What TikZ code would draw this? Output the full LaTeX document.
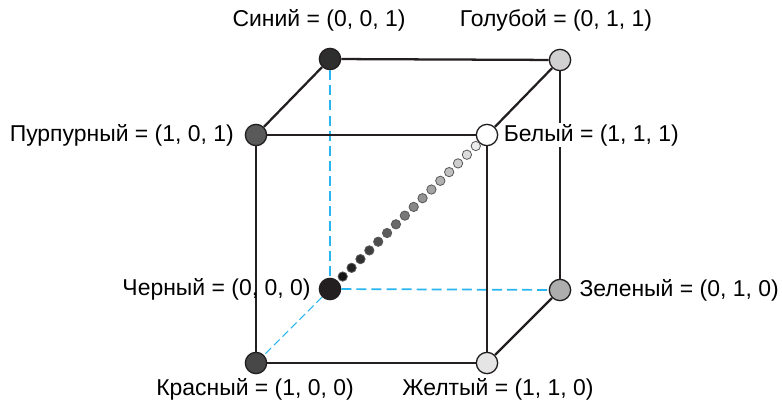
\documentclass[tikz,border=0pt]{standalone}
\usepackage{fontspec}
\setmainfont{Liberation Sans}
\usetikzlibrary{positioning,calc}
\definecolor{edgedark}{RGB}{35,31,32}
\definecolor{dashcyan}{RGB}{41,182,240}
\tikzset{
  vtx/.style={circle,draw=edgedark,line width=1pt,minimum size=16pt,inner sep=0pt},
  cubeedge/.style={edgedark,line width=1.7pt},
  hidden/.style={dashcyan,line width=1.3pt,dash pattern=on 7.5pt off 3.8pt},
  hiddenthin/.style={dashcyan,line width=0.8pt,dash pattern=on 6pt off 3pt},
  greydot/.style={circle,draw=edgedark!75,line width=0.6pt,minimum size=7pt,inner sep=0pt},
  lbl/.style={font=\fontsize{17.2}{20}\selectfont,inner sep=1pt}
}

\begin{document}
\begin{tikzpicture}[x=0.75pt,y=-0.75pt]
  \useasboundingbox (0,0) rectangle (782,403);

  % Corners of the RGB cube (front face, then back face).
  \node[vtx,fill=black!65] (magenta) at (256,135) {};
  \node[vtx,fill=white] (white) at (487,135) {};
  \node[vtx,fill=black!10] (yellow) at (487,363) {};
  \node[vtx,fill=black!72] (red) at (256,363) {};
  \node[vtx,fill=black!82] (blue) at (330,59) {};
  \node[vtx,fill=black!18] (cyan) at (560,60) {};
  \node[vtx,fill=black!32] (green) at (560,290) {};
  \node[vtx,fill=edgedark] (black) at (330,289) {};

  % Hidden edges.
  \draw[hidden] (blue)--(black);
  \draw[hidden] (black)--(green);
  \draw[hiddenthin] (black)--(red);

  % Visible edges.
  \foreach \a/\b in {blue/cyan,blue/magenta,cyan/white,magenta/white,
                     magenta/red,white/yellow,cyan/green,red/yellow,yellow/green}
    {\draw[cubeedge] (\a)--(\b);}

  % Grey scale along the main diagonal.
  \foreach \i in {0,...,15} {
    \pgfmathsetmacro{\t}{0.081+0.0565*\i}
    \pgfmathsetmacro{\g}{92-5.6*\i}
    \node[greydot,fill=black!\g] (g\i) at ($(black)!\t!(white)$) {};
  }

  % Colour names and coordinates.
  \node[lbl] (lblue) at (319,20) {Синий = (0, 0, 1)};
  \node[lbl] (lcyan) at (556,20) {Голубой = (0, 1, 1)};
  \node[lbl,left=7pt] (lmagenta) at (magenta.west) {Пурпурный = (1, 0, 1)};
  \node[lbl,right=3pt,fill=white] (lwhite) at (white.east) {Белый = (1, 1, 1)};
  \node[lbl,left=5pt] (lblack) at (black.west) {Черный = (0, 0, 0)};
  \node[lbl,right=5pt] (lgreen) at (green.east) {Зеленый = (0, 1, 0)};
  \node[lbl] (lred) at (255,389) {Красный = (1, 0, 0)};
  \node[lbl] (lyellow) at (498,389) {Желтый = (1, 1, 0)};
\end{tikzpicture}
\end{document}
